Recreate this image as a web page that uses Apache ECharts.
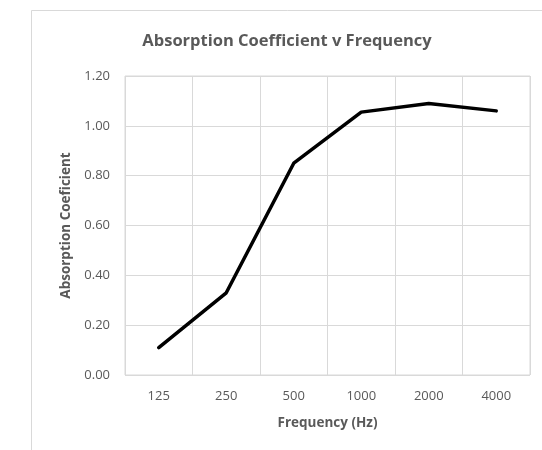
<!DOCTYPE html>
<html>
<head>
<meta charset="utf-8">
<script src="https://cdn.jsdelivr.net/npm/echarts@6/dist/echarts.min.js"></script>
<style>html,body{margin:0;padding:0;background:#fff;}#c{width:542px;height:450px;}</style>
</head>
<body>
<div id="c"></div>
<script>
const categories = ['125', '250', '500', '1000', '2000', '4000'];
const absorption = [0.11, 0.33, 0.85, 1.055, 1.09, 1.06];
const titleText = 'Absorption Coefficient v Frequency';
const xName = 'Frequency (Hz)';
const yName = 'Absorption Coeficient';

const font = 'Open Sans, Lato, sans-serif';
const chart = echarts.init(document.getElementById('c'), null, {renderer: 'canvas'});
chart.setOption({
  animation: false,
  backgroundColor: '#fff',
  graphic: [{
    type: 'rect', silent: true,
    shape: {x: 31.5, y: 10.5, width: 700, height: 600},
    style: {fill: 'none', stroke: '#d9d9d9', lineWidth: 1}
  }],
  title: {
    text: titleText, left: 282, top: 28, textAlign: 'center',
    textStyle: {fontFamily: font, fontWeight: 'bold', fontSize: 16.5, color: '#595959'}
  },
  grid: {left: 125, right: 12, top: 76, bottom: 75, show: true, borderColor: '#d9d9d9', borderWidth: 1},
  xAxis: {
    type: 'category', data: categories, boundaryGap: true,
    axisLine: {show: false}, axisTick: {show: false},
    axisLabel: {fontFamily: font, fontSize: 13, color: '#595959', margin: 15},
    splitLine: {show: true, lineStyle: {color: '#d9d9d9', width: 1}},
    name: xName, nameLocation: 'middle', nameGap: 41,
    nameTextStyle: {fontFamily: font, fontWeight: 'bold', fontSize: 13.5, color: '#595959'}
  },
  yAxis: {
    type: 'value', min: 0, max: 1.2, interval: 0.2,
    axisLine: {show: false}, axisTick: {show: false},
    axisLabel: {fontFamily: font, fontSize: 13, color: '#595959', margin: 15, formatter: v => v.toFixed(2)},
    splitLine: {show: true, lineStyle: {color: '#d9d9d9', width: 1}},
    name: yName, nameLocation: 'middle', nameGap: 52,
    nameTextStyle: {fontFamily: font, fontWeight: 'bold', fontSize: 13.5, color: '#595959'}
  },
  series: [{
    type: 'line', data: absorption, showSymbol: false, symbol: 'none',
    lineStyle: {color: '#000', width: 3.5, join: 'round', cap: 'round'}
  }]
});
</script>
</body>
</html>
